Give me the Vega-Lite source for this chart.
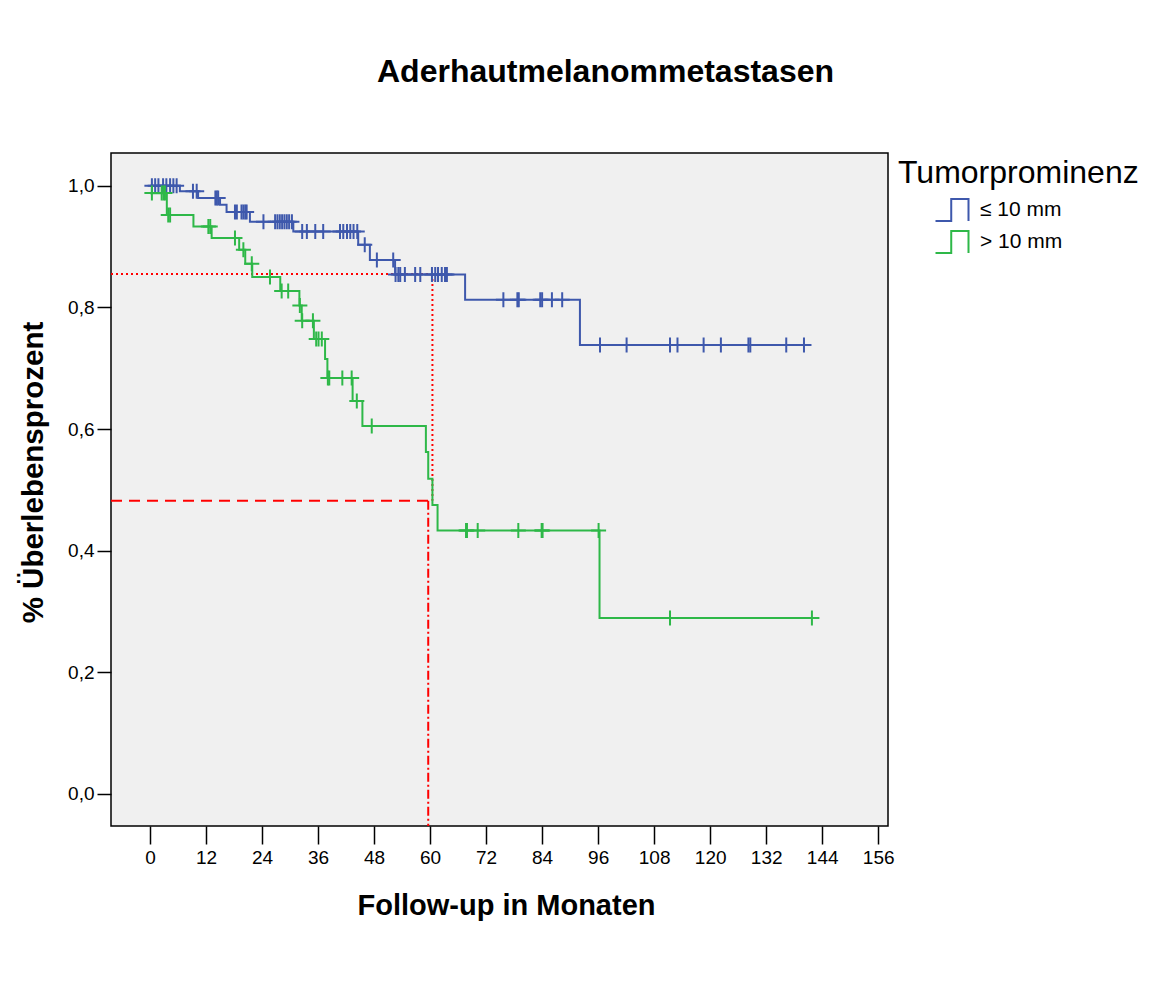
{
  "$schema": "https://vega.github.io/schema/vega-lite/v6.json",
  "width": 777,
  "height": 673,
  "autosize": {"type": "none"},
  "padding": {"left": 111, "top": 153, "right": 287, "bottom": 163},
  "background": "white",
  "config": {
    "font": "Liberation Sans",
    "view": {"fill": "#F0F0F0", "stroke": "#000000", "strokeWidth": 1.5}
  },
  "title": {
    "text": "Aderhautmelanommetastasen",
    "fontSize": 32,
    "fontWeight": "bold",
    "color": "#000000",
    "anchor": "middle",
    "dx": 106,
    "offset": 64
  },
  "datasets": {
    "curve": [
      {"group": "≤ 10 mm", "t": 0, "s": 1.0},
      {"group": "≤ 10 mm", "t": 6.4, "s": 0.991},
      {"group": "≤ 10 mm", "t": 10.3, "s": 0.98},
      {"group": "≤ 10 mm", "t": 15.0, "s": 0.969},
      {"group": "≤ 10 mm", "t": 16.4, "s": 0.957},
      {"group": "≤ 10 mm", "t": 21.4, "s": 0.941},
      {"group": "≤ 10 mm", "t": 30.7, "s": 0.925},
      {"group": "≤ 10 mm", "t": 44.6, "s": 0.903},
      {"group": "≤ 10 mm", "t": 47.1, "s": 0.878},
      {"group": "≤ 10 mm", "t": 52.5, "s": 0.854},
      {"group": "≤ 10 mm", "t": 67.5, "s": 0.8125},
      {"group": "≤ 10 mm", "t": 92.1, "s": 0.738},
      {"group": "≤ 10 mm", "t": 140.1, "s": 0.738},
      {"group": "> 10 mm", "t": 0, "s": 0.988},
      {"group": "> 10 mm", "t": 3.6, "s": 0.952},
      {"group": "> 10 mm", "t": 9.3, "s": 0.933},
      {"group": "> 10 mm", "t": 13.2, "s": 0.914},
      {"group": "> 10 mm", "t": 19.1, "s": 0.895},
      {"group": "> 10 mm", "t": 20.4, "s": 0.872},
      {"group": "> 10 mm", "t": 21.9, "s": 0.85},
      {"group": "> 10 mm", "t": 27.9, "s": 0.827},
      {"group": "> 10 mm", "t": 32.0, "s": 0.803},
      {"group": "> 10 mm", "t": 32.5, "s": 0.778},
      {"group": "> 10 mm", "t": 35.1, "s": 0.748},
      {"group": "> 10 mm", "t": 37.5, "s": 0.715},
      {"group": "> 10 mm", "t": 38.0, "s": 0.684},
      {"group": "> 10 mm", "t": 43.4, "s": 0.646},
      {"group": "> 10 mm", "t": 45.5, "s": 0.605},
      {"group": "> 10 mm", "t": 59.1, "s": 0.562},
      {"group": "> 10 mm", "t": 59.6, "s": 0.518},
      {"group": "> 10 mm", "t": 60.5, "s": 0.475},
      {"group": "> 10 mm", "t": 61.6, "s": 0.433},
      {"group": "> 10 mm", "t": 96.3, "s": 0.289},
      {"group": "> 10 mm", "t": 141.8, "s": 0.289}
    ],
    "censor": [
      {"group": "≤ 10 mm", "t": 0.4, "s": 1.0},
      {"group": "≤ 10 mm", "t": 1.1, "s": 1.0},
      {"group": "≤ 10 mm", "t": 1.8, "s": 1.0},
      {"group": "≤ 10 mm", "t": 2.8, "s": 1.0},
      {"group": "≤ 10 mm", "t": 3.5, "s": 1.0},
      {"group": "≤ 10 mm", "t": 4.3, "s": 1.0},
      {"group": "≤ 10 mm", "t": 5.0, "s": 1.0},
      {"group": "≤ 10 mm", "t": 5.7, "s": 1.0},
      {"group": "≤ 10 mm", "t": 9.2, "s": 0.991},
      {"group": "≤ 10 mm", "t": 10.0, "s": 0.991},
      {"group": "≤ 10 mm", "t": 14.0, "s": 0.98},
      {"group": "≤ 10 mm", "t": 14.3, "s": 0.98},
      {"group": "≤ 10 mm", "t": 14.6, "s": 0.98},
      {"group": "≤ 10 mm", "t": 18.2, "s": 0.957},
      {"group": "≤ 10 mm", "t": 18.6, "s": 0.957},
      {"group": "≤ 10 mm", "t": 19.6, "s": 0.957},
      {"group": "≤ 10 mm", "t": 20.0, "s": 0.957},
      {"group": "≤ 10 mm", "t": 20.4, "s": 0.957},
      {"group": "≤ 10 mm", "t": 20.7, "s": 0.957},
      {"group": "≤ 10 mm", "t": 24.3, "s": 0.941},
      {"group": "≤ 10 mm", "t": 26.8, "s": 0.941},
      {"group": "≤ 10 mm", "t": 27.3, "s": 0.941},
      {"group": "≤ 10 mm", "t": 27.8, "s": 0.941},
      {"group": "≤ 10 mm", "t": 28.3, "s": 0.941},
      {"group": "≤ 10 mm", "t": 28.8, "s": 0.941},
      {"group": "≤ 10 mm", "t": 29.3, "s": 0.941},
      {"group": "≤ 10 mm", "t": 29.8, "s": 0.941},
      {"group": "≤ 10 mm", "t": 30.4, "s": 0.941},
      {"group": "≤ 10 mm", "t": 32.6, "s": 0.925},
      {"group": "≤ 10 mm", "t": 33.6, "s": 0.925},
      {"group": "≤ 10 mm", "t": 35.4, "s": 0.925},
      {"group": "≤ 10 mm", "t": 37.1, "s": 0.925},
      {"group": "≤ 10 mm", "t": 40.7, "s": 0.925},
      {"group": "≤ 10 mm", "t": 41.4, "s": 0.925},
      {"group": "≤ 10 mm", "t": 42.2, "s": 0.925},
      {"group": "≤ 10 mm", "t": 42.9, "s": 0.925},
      {"group": "≤ 10 mm", "t": 43.6, "s": 0.925},
      {"group": "≤ 10 mm", "t": 44.4, "s": 0.925},
      {"group": "≤ 10 mm", "t": 46.0, "s": 0.903},
      {"group": "≤ 10 mm", "t": 48.6, "s": 0.878},
      {"group": "≤ 10 mm", "t": 52.1, "s": 0.878},
      {"group": "≤ 10 mm", "t": 52.6, "s": 0.854},
      {"group": "≤ 10 mm", "t": 53.2, "s": 0.854},
      {"group": "≤ 10 mm", "t": 53.6, "s": 0.854},
      {"group": "≤ 10 mm", "t": 54.6, "s": 0.854},
      {"group": "≤ 10 mm", "t": 56.8, "s": 0.854},
      {"group": "≤ 10 mm", "t": 57.9, "s": 0.854},
      {"group": "≤ 10 mm", "t": 60.4, "s": 0.854},
      {"group": "≤ 10 mm", "t": 61.1, "s": 0.854},
      {"group": "≤ 10 mm", "t": 61.7, "s": 0.854},
      {"group": "≤ 10 mm", "t": 62.5, "s": 0.854},
      {"group": "≤ 10 mm", "t": 63.2, "s": 0.854},
      {"group": "≤ 10 mm", "t": 63.6, "s": 0.854},
      {"group": "≤ 10 mm", "t": 75.7, "s": 0.8125},
      {"group": "≤ 10 mm", "t": 78.7, "s": 0.8125},
      {"group": "≤ 10 mm", "t": 79.0, "s": 0.8125},
      {"group": "≤ 10 mm", "t": 83.6, "s": 0.8125},
      {"group": "≤ 10 mm", "t": 84.0, "s": 0.8125},
      {"group": "≤ 10 mm", "t": 86.1, "s": 0.8125},
      {"group": "≤ 10 mm", "t": 88.3, "s": 0.8125},
      {"group": "≤ 10 mm", "t": 96.4, "s": 0.738},
      {"group": "≤ 10 mm", "t": 102.1, "s": 0.738},
      {"group": "≤ 10 mm", "t": 111.4, "s": 0.738},
      {"group": "≤ 10 mm", "t": 113.0, "s": 0.738},
      {"group": "≤ 10 mm", "t": 118.6, "s": 0.738},
      {"group": "≤ 10 mm", "t": 122.3, "s": 0.738},
      {"group": "≤ 10 mm", "t": 128.2, "s": 0.738},
      {"group": "≤ 10 mm", "t": 128.6, "s": 0.738},
      {"group": "≤ 10 mm", "t": 136.3, "s": 0.738},
      {"group": "≤ 10 mm", "t": 140.1, "s": 0.738},
      {"group": "> 10 mm", "t": 0.4, "s": 0.988},
      {"group": "> 10 mm", "t": 2.5, "s": 0.988},
      {"group": "> 10 mm", "t": 2.9, "s": 0.988},
      {"group": "> 10 mm", "t": 3.2, "s": 0.988},
      {"group": "> 10 mm", "t": 3.9, "s": 0.952},
      {"group": "> 10 mm", "t": 4.3, "s": 0.952},
      {"group": "> 10 mm", "t": 12.5, "s": 0.933},
      {"group": "> 10 mm", "t": 12.9, "s": 0.933},
      {"group": "> 10 mm", "t": 18.2, "s": 0.914},
      {"group": "> 10 mm", "t": 20.0, "s": 0.895},
      {"group": "> 10 mm", "t": 21.8, "s": 0.872},
      {"group": "> 10 mm", "t": 25.7, "s": 0.85},
      {"group": "> 10 mm", "t": 28.2, "s": 0.827},
      {"group": "> 10 mm", "t": 29.6, "s": 0.827},
      {"group": "> 10 mm", "t": 32.1, "s": 0.803},
      {"group": "> 10 mm", "t": 32.6, "s": 0.778},
      {"group": "> 10 mm", "t": 34.9, "s": 0.778},
      {"group": "> 10 mm", "t": 35.6, "s": 0.748},
      {"group": "> 10 mm", "t": 36.1, "s": 0.748},
      {"group": "> 10 mm", "t": 36.8, "s": 0.748},
      {"group": "> 10 mm", "t": 38.1, "s": 0.684},
      {"group": "> 10 mm", "t": 38.4, "s": 0.684},
      {"group": "> 10 mm", "t": 41.2, "s": 0.684},
      {"group": "> 10 mm", "t": 43.2, "s": 0.684},
      {"group": "> 10 mm", "t": 44.3, "s": 0.646},
      {"group": "> 10 mm", "t": 47.5, "s": 0.605},
      {"group": "> 10 mm", "t": 67.7, "s": 0.433},
      {"group": "> 10 mm", "t": 67.9, "s": 0.433},
      {"group": "> 10 mm", "t": 70.2, "s": 0.433},
      {"group": "> 10 mm", "t": 78.9, "s": 0.433},
      {"group": "> 10 mm", "t": 83.9, "s": 0.433},
      {"group": "> 10 mm", "t": 84.1, "s": 0.433},
      {"group": "> 10 mm", "t": 96.1, "s": 0.433},
      {"group": "> 10 mm", "t": 111.4, "s": 0.289},
      {"group": "> 10 mm", "t": 141.8, "s": 0.289}
    ]
  },
  "layer": [
    {
      "data": {"values": [{"t": -8.36, "t2": 60.5, "s": 0.855}]},
      "mark": {"type": "rule", "color": "#FF0000", "strokeWidth": 2, "strokeDash": [2, 3]},
      "encoding": {
        "x": {"field": "t", "type": "quantitative", "scale": {"domain": [-8.36, 158.1], "nice": false, "zero": false}},
        "x2": {"field": "t2"},
        "y": {"field": "s", "type": "quantitative", "scale": {"domain": [-0.053, 1.054], "nice": false, "zero": false}}
      }
    },
    {
      "data": {"values": [{"t": 60.5, "s": 0.855, "s2": 0.482}]},
      "mark": {"type": "rule", "color": "#FF0000", "strokeWidth": 2, "strokeDash": [2, 3]},
      "encoding": {
        "x": {"field": "t", "type": "quantitative"},
        "y": {"field": "s", "type": "quantitative"},
        "y2": {"field": "s2"}
      }
    },
    {
      "data": {"values": [{"t": -8.36, "t2": 59.6, "s": 0.482}]},
      "mark": {"type": "rule", "color": "#FF0000", "strokeWidth": 2, "strokeDash": [11, 7]},
      "encoding": {
        "x": {"field": "t", "type": "quantitative"},
        "x2": {"field": "t2"},
        "y": {"field": "s", "type": "quantitative"}
      }
    },
    {
      "data": {"values": [{"t": 59.6, "s": 0.482, "s2": -0.053}]},
      "mark": {"type": "rule", "color": "#FF0000", "strokeWidth": 2, "strokeDash": [9, 3, 2, 3]},
      "encoding": {
        "x": {"field": "t", "type": "quantitative"},
        "y": {"field": "s", "type": "quantitative"},
        "y2": {"field": "s2"}
      }
    },
    {
      "data": {"name": "curve"},
      "mark": {"type": "line", "interpolate": "step-after", "strokeWidth": 2},
      "encoding": {
        "x": {
          "field": "t", "type": "quantitative",
          "axis": {
            "title": "Follow-up in Monaten",
            "values": [0, 12, 24, 36, 48, 60, 72, 84, 96, 108, 120, 132, 144, 156],
            "grid": false, "domain": false,
            "tickSize": 18, "tickColor": "#000000", "tickWidth": 1.5,
            "labelFontSize": 19, "labelColor": "#000000", "labelPadding": 4, "labelFlush": false,
            "titleFontSize": 29, "titleFontWeight": "bold", "titleColor": "#000000", "titlePadding": 24,
            "titleX": 395
          }
        },
        "y": {
          "field": "s", "type": "quantitative",
          "axis": {
            "title": "% Überlebensprozent",
            "values": [0, 0.2, 0.4, 0.6, 0.8, 1.0],
            "labelExpr": "replace(format(datum.value, '.1f'), '.', ',')",
            "grid": false, "domain": false,
            "tickSize": 14, "tickColor": "#000000", "tickWidth": 1.5,
            "labelFontSize": 19, "labelColor": "#000000", "labelPadding": 3,
            "titleFontSize": 29.5, "titleFontWeight": "bold", "titleColor": "#000000", "titlePadding": 19,
            "titleY": 319
          }
        },
        "color": {
          "field": "group", "type": "nominal",
          "scale": {"domain": ["≤ 10 mm", "> 10 mm"], "range": ["#3E58AC", "#2EB848"]},
          "legend": {
            "title": "Tumorprominenz",
            "orient": "none", "legendX": 787, "legendY": 5,
            "titleFontSize": 32, "titleFontWeight": "normal", "titleColor": "#000000", "titlePadding": 8, "titleLimit": 400,
            "labelFontSize": 21, "labelColor": "#000000", "labelOffset": 16,
            "symbolType": "M-1.5,1L-0.07,1L-0.07,-1L1.5,-1L1.5,1",
            "symbolSize": 484, "symbolStrokeWidth": 2, "symbolFillColor": "transparent",
            "symbolOffset": 42, "rowPadding": 2
          }
        }
      }
    },
    {
      "data": {"name": "censor"},
      "mark": {"type": "point", "shape": "M-1,0L1,0M0,-1L0,1", "size": 225, "strokeWidth": 2, "filled": false, "opacity": 1},
      "encoding": {
        "x": {"field": "t", "type": "quantitative"},
        "y": {"field": "s", "type": "quantitative"},
        "color": {"field": "group", "type": "nominal"}
      }
    }
  ]
}
